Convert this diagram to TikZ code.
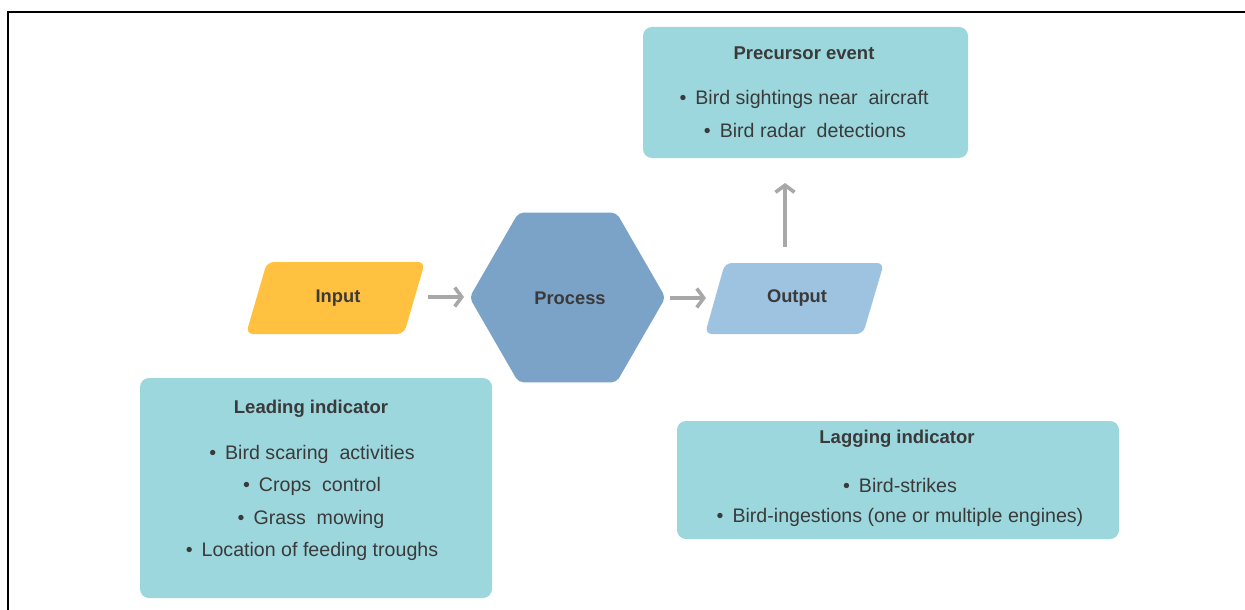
\documentclass[tikz,border=0pt]{standalone}
\usepackage{fontspec}
\setmainfont{Liberation Sans}
\usetikzlibrary{shapes.geometric,arrows.meta}
\definecolor{tealbox}{HTML}{9CD7DD}
\definecolor{inyellow}{HTML}{FFC13F}
\definecolor{procblue}{HTML}{7BA3C8}
\definecolor{outblue}{HTML}{9DC3E1}
\definecolor{arrgray}{HTML}{A8A8A8}
\definecolor{txt}{HTML}{3A3A3A}
\tikzset{
  infobox/.style={fill=tealbox, rounded corners=9pt, inner sep=0pt},
  ttl/.style={text=txt, font=\bfseries\fontsize{18.5}{22}\selectfont, inner sep=0pt, yshift=-1.8pt},
  itm/.style={text=txt, font=\fontsize{19.6}{23}\selectfont, inner sep=0pt, yshift=-1.8pt},
  lbl/.style={text=txt, font=\bfseries\fontsize{18.3}{22}\selectfont, inner sep=0pt, yshift=-1.5pt},
  arr/.style={draw=arrgray, line width=3.6pt, -{Straight Barb[length=7pt,width=19pt]}},
}
\newcommand{\bul}{\textbullet\hspace{9pt}}
\begin{document}
\begin{tikzpicture}[x=1pt,y=-1pt]
\useasboundingbox (0,0) rectangle (1245,610);
% frame
\draw[line width=2.4pt] (1245,12) -- (8,12) -- (8,612);
% precursor box
\node[infobox, minimum width=325pt, minimum height=131pt] (prec) at (805.5,92.5) {};
\node[ttl] (precT) at (804,51) {Precursor event};
\node[itm] (precA) at (804,98) {\bul Bird sightings near\ \ aircraft};
\node[itm] (precB) at (805,129) {\bul Bird radar\ \ detections};
% input
\fill[inyellow, rounded corners=7pt] (246,334) -- (267,262) -- (425,262) -- (404,334) -- cycle;
\node[lbl] (input) at (338,297) {Input};
\coordinate (inR) at (428,297);
% process
\node[regular polygon, regular polygon sides=6, minimum size=196pt, fill=procblue, rounded corners=5pt, inner sep=0pt] (proc) at (567.5,297.5) {};
\node[lbl] (procT) at (570,297) {Process};
\coordinate (procL) at (464,297);
\coordinate (procR) at (670,298);
% output
\fill[outblue, rounded corners=7pt] (705,334) -- (725,263) -- (884,263) -- (863,334) -- cycle;
\node[lbl] (output) at (797,297) {Output};
\coordinate (outL) at (706,298);
\coordinate (outT) at (785,247);
\coordinate (precBot) at (785,183);
% arrows
\draw[arr] (inR) -- (procL);
\draw[arr] (procR) -- (outL);
\draw[arr] (outT) -- (precBot);
% leading box
\node[infobox, minimum width=352pt, minimum height=220pt] (lead) at (316,488) {};
\node[ttl] (leadT) at (311,407) {Leading indicator};
\node[itm] (leadA) at (312,453) {\bul Bird scaring\ \ activities};
\node[itm] (leadB) at (312,485) {\bul Crops\ \ control};
\node[itm] (leadC) at (311,518) {\bul Grass\ \ mowing};
\node[itm] (leadD) at (312,550) {\bul Location of feeding troughs};
% lagging box
\node[infobox, minimum width=442pt, minimum height=118pt] (lag) at (898,480) {};
\node[ttl] (lagT) at (897,437) {Lagging indicator};
\node[itm] (lagA) at (900,484) {\bul Bird-strikes};
\node[itm] (lagB) at (900,516) {\bul Bird-ingestions (one or multiple engines)};
\end{tikzpicture}
\end{document}
